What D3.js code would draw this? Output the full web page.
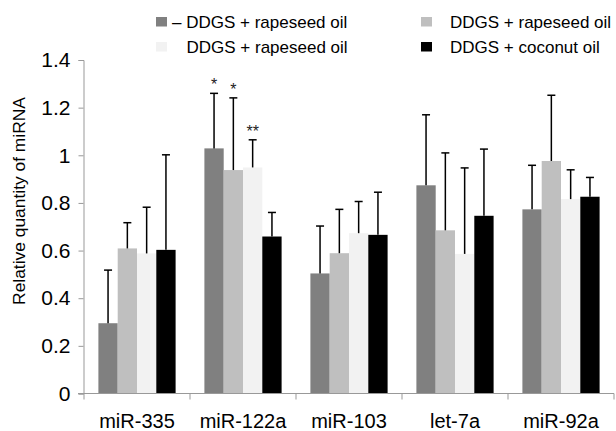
<!DOCTYPE html>
<html>
<head>
<meta charset="utf-8">
<script src="https://cdn.jsdelivr.net/npm/d3@7"></script>
<style>
  body { margin: 0; background: #fff; }
  svg text { font-family: "Liberation Sans", Arial, sans-serif; }
</style>
</head>
<body>
<div id="chart"></div>
<script>
const width = 616;
const height = 431;

// data
const categories = ["miR-335", "miR-122a", "miR-103", "let-7a", "miR-92a"];
const seriesNames = ["– DDGS + rapeseed oil", "DDGS + rapeseed oil", "DDGS + rapeseed oil", "DDGS + coconut oil"];
const colors = ["#808080", "#bfbfbf", "#f2f2f2", "#000000"];
const means = [
  [0.295, 1.029, 0.504, 0.874, 0.773],
  [0.609, 0.938, 0.589, 0.685, 0.976],
  [0.588, 0.949, 0.673, 0.586, 0.816],
  [0.603, 0.659, 0.666, 0.746, 0.826]
];
const errors = [
  [0.223, 0.231, 0.199, 0.296, 0.185],
  [0.108, 0.303, 0.184, 0.325, 0.276],
  [0.194, 0.116, 0.133, 0.361, 0.123],
  [0.399, 0.101, 0.179, 0.280, 0.081]
];
const yTicks = [0, 0.2, 0.4, 0.6, 0.8, 1, 1.2, 1.4];
const marks = [
  { cat: "miR-122a", s: 0, label: "*" },
  { cat: "miR-122a", s: 1, label: "*" },
  { cat: "miR-122a", s: 2, label: "**" }
];

const svg = d3.select("#chart").append("svg")
  .attr("width", width)
  .attr("height", height);

const x0 = d3.scaleBand().domain(categories).range([84, 614]);
const x1 = d3.scaleBand().domain(d3.range(seriesNames.length))
  .range([0, x0.bandwidth()]).paddingOuter(0.746);
const y = d3.scaleLinear().domain([0, 1.4]).range([393.5, 60]);

// y axis
const yAxis = svg.append("g")
  .attr("transform", "translate(83.5,0)")
  .call(d3.axisLeft(y).tickValues(yTicks).tickSize(5).tickPadding(8).tickFormat(d3.format("~g")));
yAxis.select(".domain").attr("stroke", "#999");
yAxis.selectAll(".tick line").attr("stroke", "#999");
yAxis.selectAll("text").attr("font-size", 21).attr("fill", "#000")
  .attr("font-family", "Liberation Sans, Arial, sans-serif");

// bars
const groups = svg.append("g").selectAll("g")
  .data(categories)
  .enter()
  .append("g")
  .attr("transform", d => "translate(" + x0(d) + ",0)");

groups.selectAll("rect")
  .data((c, ci) => means.map((m, s) => ({ s: s, v: m[ci], e: errors[s][ci] })))
  .enter()
  .append("rect")
  .attr("x", d => x1(d.s))
  .attr("y", d => y(d.v))
  .attr("width", x1.bandwidth())
  .attr("height", d => y(0) - y(d.v))
  .attr("fill", d => colors[d.s]);

// error bars (upper only)
const err = groups.selectAll("g.err")
  .data((c, ci) => means.map((m, s) => ({ s: s, v: m[ci], e: errors[s][ci] })))
  .enter()
  .append("g")
  .attr("class", "err")
  .attr("stroke", "#000")
  .attr("stroke-width", 1.5);
err.append("line")
  .attr("x1", d => x1(d.s) + x1.bandwidth() / 2)
  .attr("x2", d => x1(d.s) + x1.bandwidth() / 2)
  .attr("y1", d => y(d.v))
  .attr("y2", d => y(d.v + d.e));
err.append("line")
  .attr("x1", d => x1(d.s) + x1.bandwidth() / 2 - 4)
  .attr("x2", d => x1(d.s) + x1.bandwidth() / 2 + 4)
  .attr("y1", d => y(d.v + d.e))
  .attr("y2", d => y(d.v + d.e));

// significance marks
svg.append("g").selectAll("text")
  .data(marks)
  .enter()
  .append("text")
  .attr("x", d => x0(d.cat) + x1(d.s) + x1.bandwidth() / 2)
  .attr("y", d => {
    const ci = categories.indexOf(d.cat);
    return y(means[d.s][ci] + errors[d.s][ci]) - 3;
  })
  .attr("text-anchor", "middle")
  .attr("font-size", 16)
  .attr("fill", "#222")
  .text(d => d.label);

// x axis
const xg = svg.append("g");
xg.append("line")
  .attr("x1", 78).attr("x2", x0.range()[1])
  .attr("y1", y(0)).attr("y2", y(0))
  .attr("stroke", "#999");
xg.selectAll("line.tk")
  .data(categories.map(c => x0(c)).concat([x0.range()[1]]))
  .enter()
  .append("line")
  .attr("class", "tk")
  .attr("x1", d => d).attr("x2", d => d)
  .attr("y1", y(0)).attr("y2", y(0) + 6)
  .attr("stroke", "#999");
xg.selectAll("text")
  .data(categories)
  .enter()
  .append("text")
  .attr("x", d => x0(d) + x0.bandwidth() / 2)
  .attr("y", 428)
  .attr("text-anchor", "middle")
  .attr("font-size", 20)
  .text(d => d);

// y title
svg.append("text")
  .attr("transform", "translate(24.5,201) rotate(-90)")
  .attr("text-anchor", "middle")
  .attr("font-size", 17.4)
  .text("Relative quantity of miRNA");

// legend
const legendPos = [
  { x: 156, y: 28 }, { x: 421, y: 28 },
  { x: 156, y: 53 }, { x: 421, y: 53 }
];
const textX = [172, 450, 186.5, 450];
const legend = svg.append("g").selectAll("g")
  .data(seriesNames)
  .enter()
  .append("g");
legend.append("rect")
  .attr("x", (d, i) => legendPos[i].x)
  .attr("y", (d, i) => legendPos[i].y - 11)
  .attr("width", 11)
  .attr("height", 9.5)
  .attr("fill", (d, i) => colors[i]);
legend.append("text")
  .attr("x", (d, i) => textX[i])
  .attr("y", (d, i) => legendPos[i].y)
  .attr("font-size", 17)
  .text(d => d);
</script>
</body>
</html>
